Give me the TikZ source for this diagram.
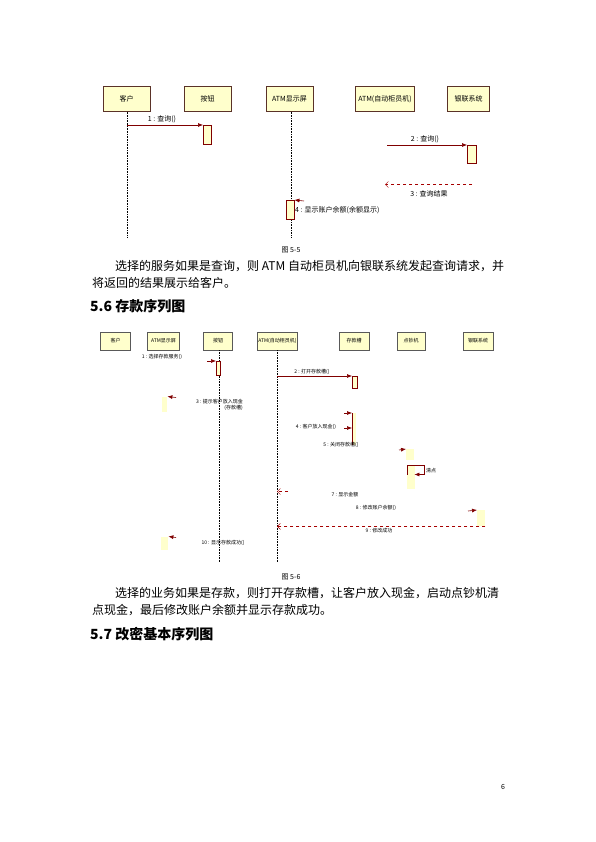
\documentclass[tikz,border=0pt]{standalone}
\usepackage{fontspec}
\setmainfont{Noto Sans CJK SC}
\usepackage{tikz}
\usetikzlibrary{arrows.meta, positioning, calc}
\definecolor{umlfill}{RGB}{255, 255, 204}
\definecolor{umlline}{RGB}{128, 0, 0}
\definecolor{umlborder}{RGB}{90, 50, 40}
\tikzset{
    headnode/.style = {draw=umlborder, fill=umlfill, rectangle, inner sep=0em, node distance=0em,
      minimum height=25pt, minimum width=47pt, font=\fontsize{7}{8}\selectfont},
    smallhead/.style = {headnode, draw=gray!70!black, minimum height=18pt, minimum width=30pt,
      font=\fontsize{5}{6}\selectfont},
    actnode/.style = {draw=umlline, fill=umlfill, rectangle, inner sep=0em, minimum width=8pt, anchor=north west},
    softact/.style = {draw=none, fill=umlfill, rectangle, inner sep=0em, minimum width=6pt, anchor=north west},
    lifeline/.style = {black, densely dotted, line width=0.6pt},
    msg/.style = {umlline, line width=0.6pt, -{Latex[length=5pt,width=4pt]}},
    retmsg/.style = {umlline!70!red, dashed, line width=0.5pt, -{Straight Barb[length=3pt]}},
    msglabel/.style = {draw=none, fill=none, inner sep=0em, font=\fontsize{7}{8}\selectfont},
    tinylabel/.style = {msglabel, font=\fontsize{5}{6}\selectfont},
    textline/.style = {draw=none, inner sep=0em, anchor=west, font=\fontsize{12}{17}\selectfont},
    headtext/.style = {textline, font=\fontsize{14}{17}\selectfont\bfseries},
    captext/.style = {draw=none, inner sep=0em, font=\fontsize{7}{8}\selectfont}
}

\begin{document}
\begin{tikzpicture}[x=1pt, y=-1pt]
\useasboundingbox[fill=white] (0,0) rectangle (595,842);

% 图 5-5 查询
\node[headnode, name=kehu] at (126.5,99) {客户};
\node[headnode, name=anniu, right of=kehu, xshift=81pt] {按钮};
\node[headnode, name=xianshi, right of=anniu, xshift=82pt] {ATM显示屏};
\node[headnode, name=atm, right of=xianshi, xshift=95.5pt, minimum width=59pt] {ATM(自动柜员机)};
\node[headnode, name=yinlian, right of=atm, xshift=83.5pt, minimum width=42pt] {银联系统};

\coordinate (kehuend) at (127,238);
\coordinate (xianshiend) at (291,238);
\draw[lifeline] (kehu.south -| kehuend) -- (kehuend);
\draw[lifeline] (xianshi.south -| xianshiend) -- (xianshiend);

\node[actnode, name=act1, minimum height=19pt] at (203,125) {};
\draw[msg] (kehuend |- act1.north west) -- (act1.north west);
\node[msglabel, name=l1] at (162,119) {1 : 查询()};

\coordinate (m2start) at (387,145);
\node[actnode, name=act2, minimum width=9pt, minimum height=18pt] at (467,145) {};
\draw[msg] (m2start) -- (act2.north west);
\node[msglabel, name=l2] at (425,139) {2 : 查询()};

\coordinate (m3start) at (472,184.5);
\coordinate (m3end) at (385,184.5);
\draw[retmsg] (m3start) -- (m3end);
\node[msglabel, name=l3] at (429,193.5) {3 : 查询结果};

\node[actnode, name=act4, minimum height=19pt] at (286,200) {};
\coordinate (m4start) at (304,201);
\draw[msg] (m4start) -- (act4.north east);
\node[msglabel, name=l4, anchor=west] at (295,210) {4 : 显示账户余额(余额显示)};

\node[captext, name=cap1] at (291,250) {图 5-5};
\node[textline, name=p1a] at (115,266) {选择的服务如果是查询，则 ATM 自动柜员机向银联系统发起查询请求，并};
\node[textline, name=p1b] at (92,283) {将返回的结果展示给客户。};
\node[headtext, name=h56] at (90,306) {5.6 存款序列图};

% 图 5-6 存款
\node[smallhead, name=kehu2] at (115.5,341) {客户};
\node[smallhead, name=xianshi2, right of=kehu2, xshift=48pt, minimum width=32pt] {ATM显示屏};
\node[smallhead, name=anniu2, right of=xianshi2, xshift=54.5pt, minimum width=29pt] {按钮};
\node[smallhead, name=atm2, right of=anniu2, xshift=59.5pt, minimum width=40pt] {ATM(自动柜员机)};
\node[smallhead, name=cao2, right of=atm2, xshift=76.5pt] {存款槽};
\node[smallhead, name=chao2, right of=cao2, xshift=57pt, minimum width=28pt] {点钞机};
\node[smallhead, name=yinlian2, right of=chao2, xshift=67pt] {银联系统};

\coordinate (anniu2end) at (219,562);
\coordinate (atm2end) at (277,562);
\draw[lifeline] (anniu2.south -| anniu2end) -- (anniu2end);
\draw[lifeline] (atm2.south -| atm2end) -- (atm2end);

\node[tinylabel, name=l21] at (162,357) {1 : 选择存款服务()};
\node[actnode, name=act21, minimum width=4pt, minimum height=14pt] at (216,361) {};
\coordinate (m21start) at (207,361);
\draw[msg] (m21start) -- (act21.north west);

\node[actnode, name=act22, minimum width=5pt, minimum height=12pt] at (352,376) {};
\draw[msg] (atm2end |- act22.north west) -- (act22.north west);
\node[tinylabel, name=l22] at (312,371.5) {2 : 打开存款槽()};

\node[softact, name=act23, minimum width=5pt, minimum height=15pt] at (162,396.5) {};
\coordinate (m23start) at (176,397.5);
\draw[msg] (m23start) -- (act23.north east);
\node[tinylabel, name=l23, anchor=east, align=right] at (243,405) {3 : 提示客户放入现金\\(存款槽)};

\node[softact, name=act24, minimum width=4pt, minimum height=32pt] at (352,413) {};
\draw[umlline, line width=0.6pt] (act24.north west) -- (act24.south west);
\coordinate (m24a) at (344,413);
\coordinate (m24b) at (344,428);
\draw[msg] (m24a) -- (act24.north west);
\draw[msg] (m24b) -- (act24.west |- m24b);
\node[tinylabel, name=l24] at (316,427) {4 : 客户放入现金()};
\node[tinylabel, name=l25] at (341,445) {5 : 关闭存款槽()};

\node[softact, name=act25, minimum width=8pt, minimum height=11pt] at (406,449) {};
\coordinate (m25start) at (399,450);
\draw[msg] (m25start) -- (act25.north west);

\node[softact, name=act26, minimum width=8pt, minimum height=24pt] at (407,465) {};
\coordinate (s6a) at (424,465.5);
\coordinate (s6b) at (424,474.5);
\draw[umlline, line width=0.6pt] (act26.north west) -- (act26.west |- s6b);
\draw[msg] (act26.north west |- s6a) -- (s6a) -- (s6b) -- ($(act26.east |- s6b)+(-1,0)$);
\node[tinylabel, name=l26, anchor=west] at (426,470.5) {清点};

\coordinate (m27start) at (288,491.5);
\draw[retmsg] (m27start) -- (atm2end |- m27start);
\node[tinylabel, name=l27] at (345,495) {7 : 显示金额};

\node[softact, name=act28, minimum width=8pt, minimum height=16pt] at (477,510) {};
\coordinate (m28start) at (468,511);
\draw[msg] (m28start) -- (act28.north west);
\node[tinylabel, name=l28] at (376,508) {8 : 修改账户余额()};

\draw[retmsg] (act28.south east) -- (atm2end |- act28.south east);
\node[tinylabel, name=l29] at (379,531) {9 : 修改成功};

\node[softact, name=act210, minimum width=7pt, minimum height=13.5pt] at (161,536.5) {};
\coordinate (m210start) at (176,537.5);
\draw[msg] (m210start) -- (act210.north east);
\node[tinylabel, name=l210] at (223,543) {10 : 显示存款成功()};

\node[captext, name=cap2] at (291,577) {图 5-6};
\node[textline, name=p2a] at (115,593) {选择的业务如果是存款，则打开存款槽，让客户放入现金，启动点钞机清};
\node[textline, name=p2b] at (92,610) {点现金，最后修改账户余额并显示存款成功。};
\node[headtext, name=h57] at (90,634) {5.7 改密基本序列图};

\node[captext, name=pagenum] at (503,787) {6};
\end{tikzpicture}
\end{document}
